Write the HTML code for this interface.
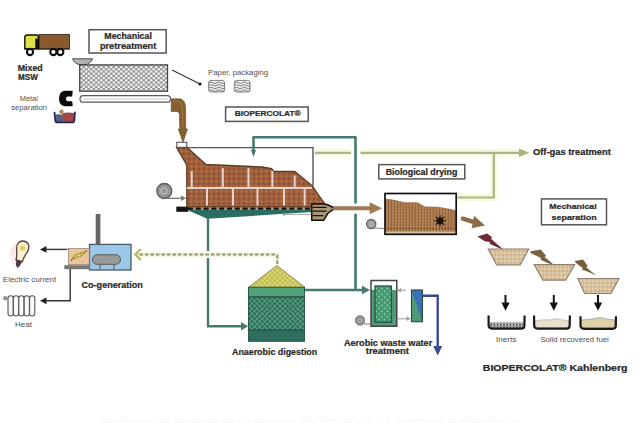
<!DOCTYPE html>
<html><head><meta charset="utf-8">
<style>
html,body{margin:0;padding:0;background:#fff;width:640px;height:423px;overflow:hidden}
svg{display:block}
text{font-family:"Liberation Sans",sans-serif}
.b{font-weight:bold}
</style></head><body>
<svg width="640" height="423" viewBox="0 0 640 423" fill="#2e2e2e">
<defs>
<pattern id="mesh" width="5" height="4.4" patternUnits="userSpaceOnUse">
<rect width="5" height="4.4" fill="#969696"/><circle cx="1.25" cy="1.1" r="1.3" fill="#f2f2f2"/><circle cx="3.75" cy="3.3" r="1.3" fill="#f2f2f2"/>
</pattern>
<pattern id="gmesh" width="3.6" height="3.6" patternUnits="userSpaceOnUse" patternTransform="rotate(45)">
<rect width="3.6" height="3.6" fill="#2d6f5d"/><rect width="3.6" height="0.9" fill="#5a9f82"/><rect width="0.9" height="3.6" fill="#5a9f82"/>
</pattern>
<pattern id="amesh" width="4" height="4" patternUnits="userSpaceOnUse" patternTransform="rotate(45)">
<rect width="4" height="4" fill="#3f9670"/><circle cx="2" cy="2" r="1.1" fill="#8ccaa8"/>
</pattern>
<pattern id="ymesh" width="3.6" height="3.6" patternUnits="userSpaceOnUse" patternTransform="rotate(45)">
<rect width="3.6" height="3.6" fill="#dad66c"/><rect width="3.6" height="0.7" fill="#b4ae50"/><rect width="0.7" height="3.6" fill="#b4ae50"/>
</pattern>
<pattern id="brick" width="5" height="5" patternUnits="userSpaceOnUse">
<rect width="5" height="5" fill="#9e603c"/><circle cx="1.5" cy="1.5" r="0.9" fill="#b8784a"/><circle cx="3.8" cy="3.6" r="0.9" fill="#86402c"/>
</pattern>
<pattern id="dry" width="3" height="3" patternUnits="userSpaceOnUse">
<rect width="3" height="3" fill="#ab7a4e"/><rect x="1" width="1" height="3" fill="#96683f"/><circle cx="2.5" cy="1.5" r="0.5" fill="#c09068"/>
</pattern>
<pattern id="sand" width="4" height="4" patternUnits="userSpaceOnUse">
<rect width="4" height="4" fill="#d7c09c"/><circle cx="1" cy="1" r="0.9" fill="#e6d6ba"/><circle cx="3" cy="3" r="0.8" fill="#c4a880"/>
</pattern>
</defs>

<!-- Truck -->
<rect x="39" y="34.4" width="30.5" height="14.6" fill="#8b5a2c" stroke="#3a2a1a" stroke-width="0.9"/>
<path d="M24.8 48.8 L24.8 37.5 Q24.8 35 27.3 35 L36 35 Q38.5 35 38.5 37.5 L38.5 48.8 Z" fill="#dfe048" stroke="#111" stroke-width="1.4"/>
<rect x="35.3" y="38.5" width="3.6" height="10.5" fill="#111"/>
<line x1="24.5" y1="49" x2="69.5" y2="49" stroke="#222" stroke-width="1.2"/>
<circle cx="30" cy="52" r="3.1" fill="#fff" stroke="#111" stroke-width="2.1"/>
<circle cx="53.4" cy="52" r="3.1" fill="#fff" stroke="#111" stroke-width="2.1"/>
<circle cx="60.3" cy="52" r="3.1" fill="#fff" stroke="#111" stroke-width="2.1"/>

<!-- Magnet C -->
<path d="M72.7 90.7 L65.5 90.7 Q59 91 59 98.5 Q59 106.1 65.5 106.3 L72.7 106.3 L72.2 101.2 L67.5 101.2 Q66 101 66 98.8 Q66 96.5 67.5 96.4 L72.2 96.4 Z" fill="#0a0a0a"/>
<!-- Basket -->
<path d="M55.5 114.5 Q58 113.8 61 114.5 L65 116 L65 122 L55.5 122 Z" fill="#56608e"/>
<path d="M62 113.5 Q67 112 74 113 L74 122 L63 122 Z" fill="#a2484a"/>
<circle cx="61.5" cy="111.8" r="2.2" fill="#b08a50"/>
<path d="M54.5 111.8 L55.3 120.5 Q55.6 122.4 57.5 122.4 L72 122.4 Q74 122.4 74.3 120.5 L75 111.8" fill="none" stroke="#2a2a50" stroke-width="1.8"/>

<!-- Mechanical pretreatment box -->
<rect x="89" y="29.7" width="77.2" height="23.3" fill="#fff" stroke="#555" stroke-width="1.5"/>

<!-- Hopper -->
<path d="M72.5 58.8 L92.5 58.8 Q90 64.5 85 64.5 L80 64.5 Q75 64.5 72.5 58.8 Z" fill="#b4b4b4" stroke="#4a4a4a" stroke-width="1"/>
<!-- screen -->
<rect x="79.7" y="64.9" width="87.8" height="26.3" fill="url(#mesh)" stroke="#444" stroke-width="1.3"/>
<!-- conveyor -->
<rect x="80" y="95.6" width="90.5" height="6.6" rx="3.3" fill="#fff" stroke="#5a5a5a" stroke-width="1.2"/>
<line x1="84" y1="99" x2="168" y2="99" stroke="#bbb" stroke-width="0.8"/>

<!-- Paper arrow -->
<line x1="172" y1="70" x2="199" y2="83.5" stroke="#333" stroke-width="1.1"/>
<circle cx="200" cy="84" r="1.6" fill="#111"/>
<g fill="#f4f4f4" stroke="#808080" stroke-width="1">
<rect x="208.6" y="80.4" width="16" height="11.6" rx="2.5"/>
<rect x="234.3" y="80.4" width="15.6" height="11.6" rx="2.5"/>
</g>
<g fill="none" stroke="#6a6a6a" stroke-width="0.9">
<path d="M209 82.8 q2 -1.6 4 0 t4 0 t4 0 t4 0 M209 85.4 q2 -1.6 4 0 t4 0 t4 0 t4 0 M209 88 q2 -1.6 4 0 t4 0 t4 0 t4 0 M209 90.6 q2 -1.6 4 0 t4 0 t4 0 t4 0 "/>
<path d="M234.5 82.8 q2 -1.6 4 0 t4 0 t4 0 t4 0 M234.5 85.4 q2 -1.6 4 0 t4 0 t4 0 t4 0 M234.5 88 q2 -1.6 4 0 t4 0 t4 0 t4 0 M234.5 90.6 q2 -1.6 4 0 t4 0 t4 0 t4 0 "/>
</g>

<!-- BIOPERCOLAT box -->
<rect x="225.6" y="107" width="82.6" height="14.4" fill="#fff" stroke="#555" stroke-width="1.5"/>

<!-- Brown pipe -->
<path d="M171.2 98.8 L180 98.8 Q185.5 100 185.6 108 L185.8 129 L187.5 129 L183 142.5 L178.3 129 L179.8 129 L179.4 114 Q179.2 111.5 176.5 111.5 L171.2 111.5 Z" fill="#84602f" stroke="#6a4c26" stroke-width="0.6"/>
<path d="M173 101 L178 101 Q182 102 182.5 108 L182.8 127" fill="none" stroke="#a58050" stroke-width="1.2" opacity="0.7"/>

<!-- Reactor -->
<polyline points="187,147.6 313,147.6 313,186.5" fill="none" stroke="#555" stroke-width="1.4"/>
<path d="M176.5 147.5 L187 147.5 L206 164.5 L240 166 L262 167 L271.5 168.5 L274 171.5 L294.7 171.5 L312 185.6 L320 197 L325 204 L311.7 204 L311.7 207 L186.8 207 L186.8 165 Z" fill="url(#brick)" stroke="#5e3a22" stroke-width="1.3"/>
<g stroke="#e9d3cf" stroke-width="2">
<line x1="186.8" y1="188" x2="312" y2="188"/>
<line x1="191.7" y1="171" x2="191.7" y2="187"/>
<line x1="222.8" y1="168" x2="222.8" y2="187"/>
<line x1="248.5" y1="168" x2="248.5" y2="187"/>
<line x1="272.4" y1="171" x2="272.4" y2="187"/>
<line x1="294.7" y1="175.5" x2="294.7" y2="187"/>
<line x1="207" y1="189" x2="207" y2="205.5"/>
<line x1="233" y1="189" x2="233" y2="205.5"/>
<line x1="257.5" y1="189" x2="257.5" y2="205.5"/>
<line x1="284" y1="189" x2="284" y2="205.5"/>
<line x1="304.6" y1="189" x2="304.6" y2="205.5"/>
</g>
<!-- teal trough -->
<path d="M186 209.6 L313 209.6 L313 212 L284 213.8 L207.3 218.8 Z" fill="#2a6e62"/>
<line x1="284" y1="214.4" x2="313" y2="214.4" stroke="#999" stroke-width="0.9"/>
<circle cx="284" cy="214.6" r="1.2" fill="#8aa"/>
<!-- dashed floor -->
<rect x="176.3" y="206.6" width="12" height="5.2" fill="#141414"/>
<line x1="188" y1="208.6" x2="312" y2="208.6" stroke="#b09070" stroke-width="2.4"/>
<line x1="188" y1="208.6" x2="312" y2="208.6" stroke="#141414" stroke-width="2.4" stroke-dasharray="5 2.8"/>

<!-- discharge screw -->
<path d="M311.7 203.9 L323.8 203.9 L327.7 204.8 L334.8 208.2 L327.7 213.5 L323.8 220.2 L311.7 220.2 Z" fill="#ab9778" stroke="#141008" stroke-width="1.5" stroke-linejoin="round"/>
<path d="M312.5 207.3 h14 M312.5 211.2 h14 M312.5 215.6 h11" stroke="#1a140c" stroke-width="1.3"/>

<!-- inlet box -->
<rect x="176.8" y="142.3" width="10" height="5" fill="#fff" stroke="#555" stroke-width="1.1"/>

<!-- Fan reactor -->
<circle cx="164.3" cy="191" r="7.5" fill="#959595" stroke="#5a5a5a" stroke-width="1.3"/>
<circle cx="164" cy="191" r="3.2" fill="none" stroke="#ccc" stroke-width="0.9"/>
<path d="M166 198.3 L182 198.3" stroke="#777" stroke-width="1.3"/>
<path d="M181 195.6 L186 198.3 L181 201 Z" fill="#777"/>

<!-- teal recirculation -->
<path d="M355.5 289.5 L355.5 213.8 M355.5 203.6 L355.5 137.2 L253.5 137.2 L253.5 151" fill="none" stroke="#467a70" stroke-width="2.6" stroke-linejoin="round"/>
<path d="M251 150 L256 150 L253.5 157 Z" fill="#467a70"/>
<!-- brown arrow to drying -->
<line x1="333" y1="208.2" x2="371" y2="208.2" stroke="#9d7a50" stroke-width="4"/>
<path d="M369.7 202.2 L382 208.2 L369.7 214.2 Z" fill="#9d7a50"/>

<!-- teal to digester -->
<path d="M208 218 L208 251 M208 258 L208 326.3 L242 326.3" fill="none" stroke="#467a70" stroke-width="2.4"/>
<path d="M241 322 L248 326.3 L241 330.6 Z" fill="#467a70"/>
<!-- teal digester to aerobic -->
<path d="M304.5 290 L363 290" fill="none" stroke="#467a70" stroke-width="2.4"/>
<path d="M362 285.7 L370 290 L362 294.3 Z" fill="#467a70"/>

<!-- offgas yellow-green -->
<g stroke="#f9f9df" stroke-width="7" fill="none">
<path d="M315 152.8 L351 152.8 M360.5 152.8 L520 152.8 M493.8 152.8 L493.8 197.5 L457.6 197.5"/>
</g>
<g stroke="#abb488" stroke-width="2.2" fill="none">
<path d="M315 152.8 L351 152.8 M360.5 152.8 L520 152.8 M493.8 152.8 L493.8 197.5 L457.6 197.5"/>
</g>
<path d="M519 148.5 L529.5 152.8 L519 157 Z" fill="#abb470"/>

<!-- Biological drying box -->
<rect x="378.8" y="164.6" width="86" height="14.3" fill="#fff" stroke="#555" stroke-width="1.5"/>

<!-- drying unit -->
<rect x="385" y="193.5" width="71.2" height="40.8" fill="#fff"/>
<path d="M385 198.6 L392.5 199.6 L405 202.2 L417.5 202.2 L425 206.5 L437.5 206.7 L451 209 L456 210.5 L456 234.3 L385 234.3 Z" fill="url(#dry)"/>
<rect x="385" y="231.5" width="71" height="2.5" fill="#d8c0a0"/>
<line x1="387" y1="228.6" x2="454" y2="228.6" stroke="#6a4a2a" stroke-width="0.9" stroke-dasharray="2 1"/>
<rect x="385" y="193.5" width="71.2" height="40.8" fill="none" stroke="#111" stroke-width="1.7"/>
<polygon points="440.00,214.00 441.07,218.21 444.81,215.99 442.59,219.73 446.80,220.80 442.59,221.87 444.81,225.61 441.07,223.39 440.00,227.60 438.93,223.39 435.19,225.61 437.41,221.87 433.20,220.80 437.41,219.73 435.19,215.99 438.93,218.21" fill="#1a1208"/>
<!-- small fan -->
<circle cx="371.2" cy="224" r="4.7" fill="#999" stroke="#606060" stroke-width="1.2"/>
<circle cx="371.3" cy="224.4" r="2" fill="none" stroke="#ccc" stroke-width="0.7"/>
<path d="M374 228 L384 228.5" stroke="#888" stroke-width="1.1"/>

<!-- brown arrow to separation -->
<path d="M462.8 218.6 L475 222.4" stroke="#8e6c48" stroke-width="4.3" stroke-linecap="round"/>
<path d="M474.1 215.8 L485 225.6 L471.6 228.2 Z" fill="#8e6c48"/>

<!-- Mechanical separation box -->
<rect x="541.5" y="198.9" width="65" height="25.9" fill="#fff" stroke="#555" stroke-width="1.5"/>

<!-- lightnings -->
<polygon points="477.3,236.6 487.2,233.6 492.2,237.6 491,238.8 503.8,249.9 495.5,246.5 489.2,243.4 490.2,242.2 484.2,241 480.6,238.4" fill="#6e2836"/>
<polygon points="529.8,251.6 540.7,249.6 546,255.8 544.6,257 554.2,264.9 547.5,263 540.2,259.6 541.4,258.3 535,255 531.5,253.5" fill="#76603e"/>
<polygon points="574.7,260.9 583,259.4 587.6,265.8 586.3,267.2 596.4,275.7 589.8,272.6 581.8,269.6 582.9,268.2 578,264.6 576,263" fill="#76603e"/>

<!-- bowls -->
<g fill="url(#sand)" stroke="#908070" stroke-width="1.2">
<path d="M488.3 249 L528.7 249 L520.2 264.8 L496.6 264.8 Z"/>
<path d="M534.2 264.6 L574.7 264.6 L565.6 280.2 L542.9 280.2 Z"/>
<path d="M577.8 278.5 L619 278.5 L611 293.5 L584.6 293.5 Z"/>
</g>

<!-- black arrows -->
<g stroke="#111" stroke-width="2">
<line x1="505.5" y1="295" x2="505.5" y2="304"/>
<line x1="553.8" y1="295" x2="553.8" y2="304"/>
<line x1="598" y1="295" x2="598" y2="304"/>
</g>
<g fill="#111">
<path d="M501.4 302.6 L509.6 302.6 L505.5 310.8 Z"/>
<path d="M549.7 302.6 L557.9 302.6 L553.8 310.8 Z"/>
<path d="M593.9 302.6 L602.1 302.6 L598 310.8 Z"/>
</g>
<!-- trays -->
<pattern id="grav" width="3.2" height="2.6" patternUnits="userSpaceOnUse">
<rect width="3.2" height="2.6" fill="#ddd"/><circle cx="1.6" cy="1.3" r="1" fill="none" stroke="#333" stroke-width="0.7"/>
</pattern>
<path d="M489.5 322.5 L523.5 322.5 L523.5 328 L489.5 328 Z" fill="url(#grav)"/>
<path d="M535 327.5 L535 321 Q545 319 550 320 Q555 317.5 559 319.5 Q565 320 569 321 L569 327.5Z" fill="#e9e0cc" stroke="#aaa" stroke-width="0.6"/>
<path d="M581 327.5 L581 320 Q590 319.5 595 318.5 Q600 316.5 604 318.5 Q610 319.5 615 320 L615 327.5Z" fill="#ddd0a8" stroke="#888" stroke-width="0.6"/>
<g fill="none" stroke="#1a1a1a" stroke-width="2.2">
<path d="M488.6 315.6 L488.6 325.5 Q488.8 328.6 492 328.6 L521.2 328.6 Q524.4 328.6 524.4 325.5 L524.6 315.6"/>
<path d="M534.1 315.6 L534.1 325.5 Q534.3 328.6 537.5 328.6 L566.5 328.6 Q569.7 328.6 569.7 325.5 L569.9 315.6"/>
<path d="M580.5 316.2 L580.5 325.8 Q580.7 328.8 584 328.8 L612.6 328.8 Q615.8 328.8 615.8 325.8 L616 316.2"/>
</g>

<!-- Co-generation -->
<rect x="95.7" y="214" width="4.7" height="30.5" fill="#666"/>
<rect x="89.5" y="244.4" width="41.5" height="25.6" fill="#9cc8e8" stroke="#4a5a6a" stroke-width="1.3"/>
<rect x="92.5" y="254.8" width="28" height="9.5" rx="4.7" fill="#9a9a9a" stroke="#555" stroke-width="1"/>
<line x1="100" y1="264.5" x2="100" y2="269.5" stroke="#555" stroke-width="1"/>
<line x1="114" y1="264.5" x2="114" y2="269.5" stroke="#555" stroke-width="1"/>
<rect x="68.4" y="248.4" width="20.8" height="16.2" fill="#ecc49c" stroke="#9a8a7a" stroke-width="0.8"/>
<path d="M71 261 Q74 254 80 253.5 Q84 252 87 250.5 Q83 256 78 257 Q74 258 71 261 Z" fill="#e6d440" stroke="#3a3a20" stroke-width="0.9" stroke-dasharray="1.5 1"/>
<rect x="64.3" y="265.2" width="25.5" height="4" fill="#777"/>
<!-- arrows from cogen -->
<g fill="none" stroke="#333" stroke-width="1.4">
<path d="M67.5 249.4 L45 249.4"/>
<path d="M70.2 269 L70.2 300.8 L45 300.8"/>
</g>
<path d="M46.5 246 L40 249.4 L46.5 252.8 Z" fill="#222"/>
<path d="M46.5 297.4 L40 300.8 L46.5 304.2 Z" fill="#222"/>
<!-- bulb -->
<ellipse cx="18" cy="254" rx="8" ry="12" fill="#fbeaea"/>
<g transform="rotate(15 21 254)">
<path d="M21 240.8 C15.5 240.8 14 246 15.5 250.5 C16.8 254 17.6 257 17.8 261 L24.2 261 C24.4 257 25.2 254 26.5 250.5 C28 246 26.5 240.8 21 240.8 Z" fill="#f7f0d4" stroke="#5a4034" stroke-width="1.3"/>
<circle cx="21" cy="248" r="2.6" fill="#e8d060"/>
<path d="M18 261 L24 261 L23 266 L21 268.5 L19 266 Z" fill="#4a3a44"/>
</g>
<!-- radiator -->
<g fill="#fafafa" stroke="#555" stroke-width="1.1">
<rect x="8" y="295.8" width="5.2" height="20.2" rx="2.5"/>
<rect x="13.4" y="295.8" width="5.2" height="20.2" rx="2.5"/>
<rect x="18.8" y="295.8" width="5.2" height="20.2" rx="2.5"/>
<rect x="24.2" y="295.8" width="5.2" height="20.2" rx="2.5"/>
<rect x="29.6" y="295.8" width="5.2" height="20.2" rx="2.5"/>
</g>
<circle cx="5.3" cy="298.2" r="1.9" fill="#999" stroke="#777" stroke-width="0.6"/>

<!-- biogas dashed -->
<path d="M277.3 264 L277.3 254.5 L137 254.5" fill="none" stroke="#f1f3d4" stroke-width="4" stroke-linejoin="round"/>
<path d="M277.3 264 L277.3 256 Q277.3 254.5 275.8 254.5 L137 254.5" fill="none" stroke="#94946a" stroke-width="1.9" stroke-dasharray="3.5 2"/>
<path d="M141 249 L135 254.5 L141 260" fill="none" stroke="#b0b860" stroke-width="2"/>

<!-- Anaerobic digester -->
<path d="M248.5 287.3 L276.8 265.5 L305 287.3 Z" fill="url(#ymesh)" stroke="#7a7a40" stroke-width="0.8"/>
<rect x="248.5" y="287.3" width="56" height="9.5" fill="#4fa27a"/>
<rect x="248.5" y="296.8" width="56" height="33.2" fill="url(#gmesh)"/>
<rect x="248.5" y="330" width="56" height="11.3" fill="#2f6e5e"/>
<line x1="248.5" y1="296.8" x2="304.5" y2="296.8" stroke="#1f4a3a" stroke-width="1.2"/>
<line x1="248.5" y1="330" x2="304.5" y2="330" stroke="#1f4a3a" stroke-width="1.2"/>
<rect x="248.5" y="287.3" width="56" height="54" fill="none" stroke="#2a5a4a" stroke-width="1"/>

<!-- Aerobic -->
<rect x="371" y="290" width="25.8" height="36.3" fill="#4f9a76"/>
<path d="M371 326.3 L371 280.5 L396.8 280.5 L396.8 326.3 Z" fill="none" stroke="#444" stroke-width="1.5"/>
<rect x="375" y="286" width="16.4" height="36.2" fill="url(#amesh)" stroke="#24583e" stroke-width="1.3"/>
<path d="M406 290.2 L400 290.2" stroke="#999" stroke-width="1"/>
<path d="M401 288 L397.5 290.2 L401 292.4 Z" fill="#999"/>
<path d="M398 318.8 L407 318.8" stroke="#999" stroke-width="1"/>
<path d="M406.5 316.6 L410.5 318.8 L406.5 321 Z" fill="#999"/>
<rect x="411.5" y="290" width="11" height="31.7" fill="#4f9a76"/>
<path d="M411.5 290 L422.5 290 L422.5 321.7 Z" fill="#3a6eb8"/>
<rect x="411.5" y="290" width="11" height="31.7" fill="none" stroke="#2a4a3a" stroke-width="1.1"/>
<circle cx="360" cy="320.5" r="4.8" fill="#8f8f8f" stroke="#777" stroke-width="0.8"/>
<circle cx="360" cy="320.5" r="2" fill="none" stroke="#ccc" stroke-width="0.7"/>
<path d="M364 324 L371 324" stroke="#777" stroke-width="1"/>
<path d="M422.5 295.8 L437.7 295.8 L437.7 347" fill="none" stroke="#3a4a90" stroke-width="2.4"/>
<path d="M433.2 346 L442.2 346 L437.7 355.5 Z" fill="#3a4a90"/>

<!-- faint bottom text -->
<!-- labels -->
<text x="104.3" y="38.9" font-size="8.4" textLength="47.6" lengthAdjust="spacingAndGlyphs" fill="#2a2a2a" font-weight="bold" stroke="#2a2a2a" stroke-width="0.22">Mechanical</text>
<text x="99.9" y="49" font-size="8.6" textLength="56.4" lengthAdjust="spacingAndGlyphs" fill="#2a2a2a" font-weight="bold" stroke="#2a2a2a" stroke-width="0.22">pretreatment</text>
<text x="17.8" y="71" font-size="8.5" textLength="24.9" lengthAdjust="spacingAndGlyphs" fill="#2a2a2a" font-weight="bold" stroke="#2a2a2a" stroke-width="0.22">Mixed</text>
<text x="18" y="80.1" font-size="8.5" textLength="19.9" lengthAdjust="spacingAndGlyphs" fill="#2a2a2a" font-weight="bold" stroke="#2a2a2a" stroke-width="0.22">MSW</text>
<text x="19.7" y="100.9" font-size="7.2" textLength="18.2" lengthAdjust="spacingAndGlyphs" fill="#505050">Metal</text>
<text x="11.3" y="110" font-size="7.4" textLength="35.7" lengthAdjust="spacingAndGlyphs" fill="#505050">separation</text>
<text x="208.1" y="75.1" font-size="7.5" textLength="60" lengthAdjust="spacingAndGlyphs" fill="#4e4e4e">Paper, packaging</text>
<text x="234.7" y="116.4" font-size="7.4" textLength="66" lengthAdjust="spacingAndGlyphs" fill="#2a2a2a" font-weight="bold" stroke="#2a2a2a" stroke-width="0.22">BIOPERCOLAT®</text>
<text x="532.9" y="155.4" font-size="8.8" textLength="78" lengthAdjust="spacingAndGlyphs" fill="#2a2a2a" font-weight="bold" stroke="#2a2a2a" stroke-width="0.22">Off-gas treatment</text>
<text x="385.7" y="174.5" font-size="8.6" textLength="71.6" lengthAdjust="spacingAndGlyphs" fill="#2a2a2a" font-weight="bold" stroke="#2a2a2a" stroke-width="0.22">Biological drying</text>
<text x="549.2" y="209.4" font-size="7.5" textLength="47.5" lengthAdjust="spacingAndGlyphs" fill="#2a2a2a" font-weight="bold" stroke="#2a2a2a" stroke-width="0.22">Mechanical</text>
<text x="551.5" y="219.7" font-size="7.6" textLength="45.2" lengthAdjust="spacingAndGlyphs" fill="#2a2a2a" font-weight="bold" stroke="#2a2a2a" stroke-width="0.22">separation</text>
<text x="495.9" y="342.2" font-size="7.2" textLength="20.4" lengthAdjust="spacingAndGlyphs" fill="#4e4e4e">Inerts</text>
<text x="540.4" y="342.2" font-size="7.2" textLength="68.4" lengthAdjust="spacingAndGlyphs" fill="#4e4e4e">Solid recovered fuel</text>
<text x="482.8" y="371" font-size="8.8" textLength="144.7" lengthAdjust="spacingAndGlyphs" fill="#2a2a2a" font-weight="bold" stroke="#2a2a2a" stroke-width="0.22">BIOPERCOLAT® Kahlenberg</text>
<text x="2.8" y="281.7" font-size="7.8" textLength="53.4" lengthAdjust="spacingAndGlyphs" fill="#4e4e4e">Electric current</text>
<text x="81.5" y="287.6" font-size="8.8" textLength="61.4" lengthAdjust="spacingAndGlyphs" fill="#2a2a2a" font-weight="bold" stroke="#2a2a2a" stroke-width="0.22">Co-generation</text>
<text x="15" y="327.2" font-size="7.3" textLength="16.9" lengthAdjust="spacingAndGlyphs" fill="#4e4e4e">Heat</text>
<text x="232" y="355.3" font-size="8.7" textLength="85.2" lengthAdjust="spacingAndGlyphs" fill="#2a2a2a" font-weight="bold" stroke="#2a2a2a" stroke-width="0.22">Anaerobic digestion</text>
<text x="343.9" y="345.9" font-size="8.6" textLength="88.3" lengthAdjust="spacingAndGlyphs" fill="#2a2a2a" font-weight="bold" stroke="#2a2a2a" stroke-width="0.22">Aerobic waste water</text>
<text x="365.8" y="353.75" font-size="8.6" textLength="43" lengthAdjust="spacingAndGlyphs" fill="#2a2a2a" font-weight="bold" stroke="#2a2a2a" stroke-width="0.22">treatment</text>
<text x="100" y="424" font-size="9" fill="#f9f9f9" font-weight="bold" textLength="420" lengthAdjust="spacingAndGlyphs">Mechanical biological treatment BIOPERCOLAT process Kahlenberg</text>
</svg>
</body></html>
